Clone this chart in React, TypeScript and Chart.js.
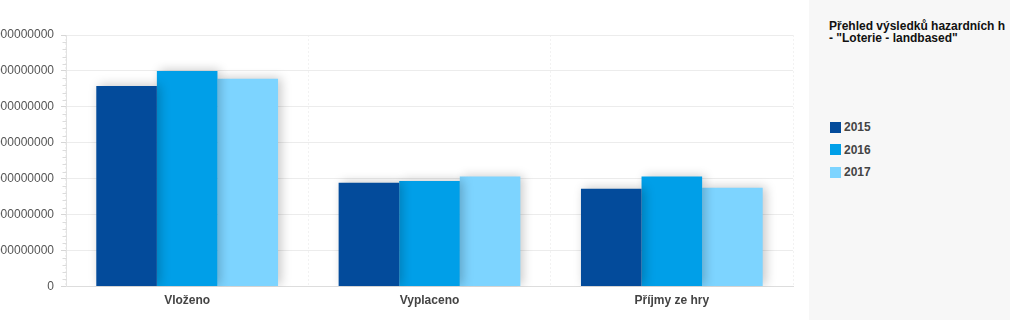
import React, { useEffect, useRef } from "react";
import { Chart, registerables } from "chart.js";

Chart.register(...registerables);

const categories = ["Vloženo", "Vyplaceno", "Příjmy ze hry"];
const years = ["2015", "2016", "2017"];
const values2015 = [5580000000, 2890000000, 2720000000];
const values2016 = [6000000000, 2940000000, 3060000000];
const values2017 = [5780000000, 3060000000, 2750000000];
const seriesColors = ["#034b9b", "#009fe8", "#7dd4ff"];
const yMax = 7000000000;
const yStep = 1000000000;
const legendTitleLines = ["Přehled výsledků hazardních her", "- \"Loterie - landbased\""];

const shadowPlugin = {
  id: "barShadow",
  beforeDatasetsDraw(chart: any) {
    const ctx = chart.ctx;
    ctx.save();
    ctx.shadowColor = "rgba(0,0,0,0.22)";
    ctx.shadowBlur = 10;
    ctx.shadowOffsetX = 3;
    ctx.shadowOffsetY = -1;
  },
  afterDatasetsDraw(chart: any) {
    chart.ctx.restore();
  },
};

const minorTicksPlugin = {
  id: "minorTicks",
  afterDraw(chart: any) {
    const s = chart.scales.y;
    const ctx = chart.ctx;
    ctx.save();
    ctx.strokeStyle = "#dcdcdc";
    ctx.lineWidth = 1;
    const x = Math.round(s.right) + 0.5;
    for (let v = 0; v < yMax; v += yStep) {
      for (let k = 1; k < 5; k++) {
        const y = Math.round(s.getPixelForValue(v + (yStep * k) / 5)) + 0.5;
        ctx.beginPath();
        ctx.moveTo(x - 4, y);
        ctx.lineTo(x, y);
        ctx.stroke();
      }
    }
    ctx.restore();
  },
};

export default function App() {
  const ref = useRef<HTMLCanvasElement | null>(null);

  useEffect(() => {
    document.body.style.margin = "0";
    const seriesValues = [values2015, values2016, values2017];
    const chart = new Chart(ref.current as HTMLCanvasElement, {
      type: "bar",
      data: {
        labels: categories,
        datasets: years.map((y, i) => ({
          label: y,
          data: seriesValues[i],
          backgroundColor: seriesColors[i],
          borderWidth: 0,
          categoryPercentage: 0.75,
          barPercentage: 1,
        })),
      },
      options: {
        responsive: false,
        animation: false,
        layout: { padding: { top: 35, right: 7, bottom: 5, left: 0 } },
        plugins: { legend: { display: false }, tooltip: { enabled: false } },
        scales: {
          x: {
            grid: { color: "rgba(0,0,0,0.05)", drawTicks: false },
            border: { color: "#dddddd", dash: [2, 2] },
            ticks: {
              padding: 7,
              color: "#444444",
              font: { family: "'Liberation Sans', Arial", size: 12, weight: "bold" },
            },
          },
          y: {
            min: 0,
            max: yMax,
            afterFit(scale: any) {
              scale.width = 86;
            },
            grid: { color: "#ececec", tickLength: 5, tickColor: "#d6d6d6" },
            border: { color: "#e2e2e2" },
            ticks: {
              stepSize: yStep,
              padding: 7,
              color: "#555555",
              font: { family: "'Liberation Sans', Arial", size: 12 },
              callback: (v: any) => String(v),
            },
          },
        },
      },
      plugins: [shadowPlugin, minorTicksPlugin],
    });
    return () => chart.destroy();
  }, []);

  return (
    <div style={{ position: "fixed", left: 0, top: 0, width: 1010, height: 320, overflow: "hidden", background: "#ffffff" }}>
      <div style={{ position: "absolute", left: -20, top: 0 }}>
        <canvas ref={ref} width={820} height={320} style={{ display: "block" }} />
      </div>
      <div
        style={{
          position: "absolute",
          left: 809,
          top: 0,
          width: 196,
          height: 320,
          background: "#f7f7f7",
          overflow: "hidden",
          fontFamily: "'Liberation Sans', Arial, sans-serif",
        }}
      >
        <div style={{ position: "absolute", left: 20, top: 20, whiteSpace: "nowrap", fontSize: 12, fontWeight: "bold", lineHeight: "12px", color: "#111" }}>
          {legendTitleLines.map((l, i) => (
            <div key={i}>{l}</div>
          ))}
        </div>
        {years.map((y, i) => (
          <div key={y} style={{ position: "absolute", left: 21, top: 121 + i * 22.7, height: 12, display: "flex", alignItems: "center" }}>
            <div style={{ width: 11, height: 11, background: seriesColors[i], marginRight: 3 }} />
            <span style={{ fontSize: 12, fontWeight: "bold", color: "#444", lineHeight: "12px" }}>{y}</span>
          </div>
        ))}
      </div>
      <div style={{ position: "absolute", left: 1005, top: 0, width: 5, height: 320, background: "#f7f7f7" }} />
    </div>
  );
}
